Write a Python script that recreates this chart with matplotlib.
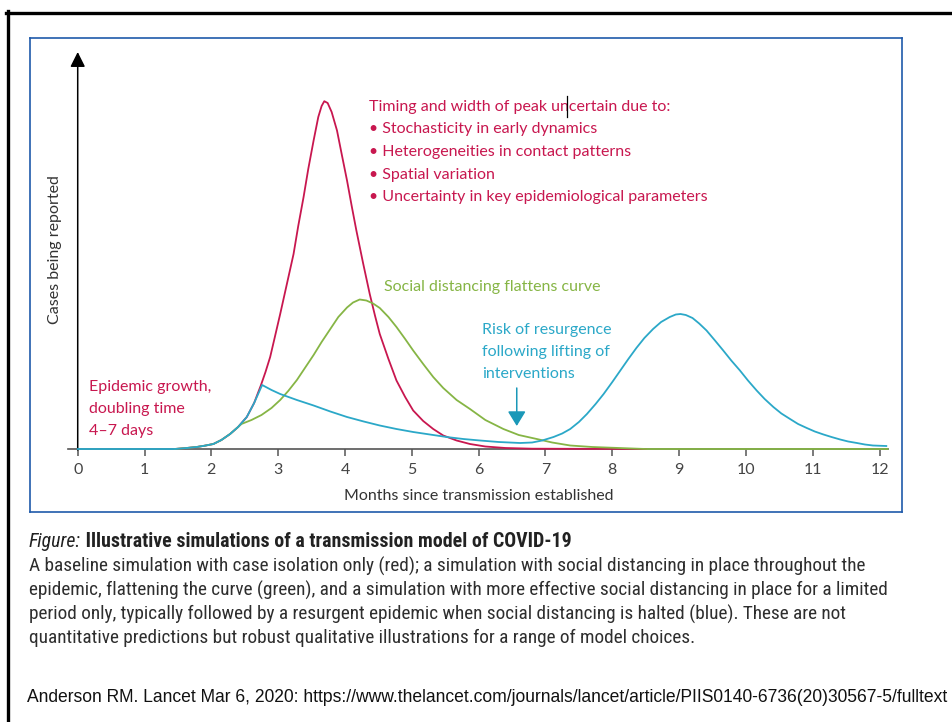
import matplotlib.pyplot as plt
from matplotlib import font_manager
from matplotlib.lines import Line2D

# months since transmission established / relative number of cases reported
red_t = [1.45, 1.6, 1.78, 1.9, 2.03, 2.15, 2.28, 2.4, 2.53, 2.64, 2.74, 2.81, 2.88, 2.95,
         3.03, 3.13, 3.23, 3.3, 3.38, 3.45, 3.53, 3.6, 3.65, 3.69, 3.74, 3.8, 3.88, 3.95,
         4.03, 4.1, 4.17, 4.27, 4.37, 4.45, 4.52, 4.65, 4.77, 4.9, 5.02, 5.17, 5.32, 5.47,
         5.67, 5.87, 6.1, 6.4, 6.8, 8.5]
red_y = [0, 0.8, 2, 3.3, 5, 9, 15, 22, 32, 46, 63.5, 77, 92, 112,
         135, 165, 195, 223, 252, 280, 308.5, 332, 343, 347.8, 346, 337, 318.5, 295,
         268.5, 243, 218.5, 186, 155, 133, 115, 90, 68.5, 52, 38.5, 28, 20, 13.5,
         8.5, 5, 2.5, 1, 0.3, 0]

green_t = [1.45, 1.6, 1.78, 1.9, 2.03, 2.15, 2.28, 2.4, 2.45, 2.6, 2.75, 2.9, 3.03, 3.15,
           3.28, 3.4, 3.53, 3.65, 3.78, 3.9, 4.03, 4.12, 4.22, 4.32, 4.42, 4.52, 4.65,
           4.77, 4.9, 5.02, 5.17, 5.32, 5.47, 5.67, 5.87, 6.1, 6.37, 6.6, 6.87, 7.1, 7.37,
           7.7, 8.1, 8.5, 12.12]
green_y = [0, 0.8, 2, 3.3, 5, 9, 15, 22, 25, 29, 34, 41, 49, 58,
           69, 81, 94, 107, 120, 132, 141.5, 146.5, 149.5, 148.5, 145.5, 141, 132,
           122, 110, 98.5, 85, 72, 61, 49, 40, 29, 20, 14, 10, 6.5, 3.5,
           2, 1, 0, 0]

blue_t = [0, 1.45, 1.6, 1.78, 1.9, 2.03, 2.15, 2.28, 2.4, 2.53, 2.64, 2.76, 2.9, 3.03,
          3.28, 3.53, 3.78, 4.03, 4.28, 4.52, 4.77, 5.02, 5.27, 5.52, 5.77, 6.02, 6.3,
          6.62, 6.8, 6.95, 7.12, 7.25, 7.37, 7.5, 7.62, 7.75, 7.87, 8.0, 8.12, 8.24,
          8.36, 8.48, 8.61, 8.73, 8.86, 8.95, 9.02, 9.1, 9.2, 9.3, 9.41, 9.53, 9.66,
          9.78, 9.91, 10.03, 10.16, 10.28, 10.41, 10.53, 10.66, 10.78, 10.91, 11.03,
          11.16, 11.28, 11.41, 11.53, 11.66, 11.78, 11.9, 12.1]
blue_y = [0, 0, 0.8, 2, 3.3, 5, 9, 15, 22, 32, 46, 64, 59, 55,
          49, 43.5, 37.5, 32, 27.5, 23.5, 20, 17, 14.5, 12, 10, 8.5, 7,
          6, 6.5, 8.5, 12, 15.5, 20, 27, 35, 45, 55, 67, 78.5, 90,
          101, 111, 120, 127, 132, 134.5, 135, 134, 131, 125.5, 118.5, 109, 98.5,
          88.5, 78.5, 68.5, 58.5, 50, 42, 35.5, 30, 25, 21, 17.5,
          14.5, 12, 9.5, 7.5, 6, 4.5, 3.5, 3]

months = list(range(13))

peak_note = ['Timing and width of peak uncertain due to:',
             '• Stochasticity in early dynamics',
             '• Heterogeneities in contact patterns',
             '• Spatial variation',
             '• Uncertainty in key epidemiological parameters']
growth_note = ['Epidemic growth,', 'doubling time', '4–7 days']
resurgence_note = ['Risk of resurgence', 'following lifting of', 'interventions']

caption_lines = [
    'A baseline simulation with case isolation only (red); a simulation with social distancing in place throughout the',
    'epidemic, flattening the curve (green), and a simulation with more effective social distancing in place for a limited',
    'period only, typically followed by a resurgent epidemic when social distancing is halted (blue). These are not',
    'quantitative predictions but robust qualitative illustrations for a range of model choices.',
]
source = ('Anderson RM. Lancet Mar 6, 2020: https://www.thelancet.com/journals/lancet/'
          'article/PIIS0140-6736(20)30567-5/fulltext')

RED = '#c8174f'
GREEN = '#86b545'
BLUE = '#2ba8c8'
BOX = '#1f5aaa'

# narrow face for the caption if one is installed
installed = {f.name for f in font_manager.fontManager.ttflist}
narrow = None
for name in ['Roboto Condensed', 'Liberation Sans Narrow', 'Open Sans Condensed',
             'Noto Sans Condensed', 'DejaVu Sans Condensed']:
    if name in installed:
        narrow = name
        break
cap_font = dict(family=[narrow or 'Liberation Sans', 'DejaVu Sans'])
if narrow is None:
    cap_font['stretch'] = 'condensed'

W, H = 952, 722
fig = plt.figure(figsize=(W / 100, H / 100), dpi=100)


def fx(px):
    return px / W


def fy(py):
    return 1 - py / H


# slide frame (top and left edges only)
fig.add_artist(Line2D([fx(6), 1], [fy(12.5), fy(12.5)], color='black', lw=2.4))
fig.add_artist(Line2D([fx(7.5), fx(7.5)], [fy(11), 0], color='black', lw=2.4))

# the blue box is the axes frame itself
ax = fig.add_axes([fx(30), fy(512), fx(902) - fx(30), fy(38) - fy(512)])
ax.set_xlim(-0.714, 12.335)
ax.set_ylim(-63, 411)
ax.set_xticks([])
ax.set_yticks([])
for s in ax.spines.values():
    s.set_color(BOX)
    s.set_linewidth(1.2)

txt = dict(family=['Lato', 'DejaVu Sans'], fontsize=11.5)

ax.plot(red_t, red_y, color=RED, lw=1.3, zorder=3)
ax.plot(green_t, green_y, color=GREEN, lw=1.3, zorder=4)
ax.plot(blue_t, blue_y, color=BLUE, lw=1.3, zorder=5)

# axes drawn by hand: baseline with ticks, arrowed vertical axis
ax.plot([-0.15, 12.12], [0, 0], color='#555555', lw=1.2, zorder=2)
ax.vlines(months, -7, 0, color='#555555', lw=1.1)
for m in months:
    ax.text(m, -21, str(m), ha='center', va='center', color='#444444', **txt)
ax.annotate('', xy=(0, 397), xytext=(0, -1),
            arrowprops=dict(arrowstyle='-|>,head_width=0.45,head_length=0.9',
                            color='black', lw=1.1, shrinkA=0, shrinkB=0))
ax.text(6, -47.5, 'Months since transmission established', ha='center', va='center',
        color='#333333', **txt)
fig.text(fx(55), fy(250), 'Cases being reported', rotation=90, ha='center',
         va='center', color='#333333', **txt)

for i, line in enumerate(peak_note):
    ax.text(4.36, 342 - 22.5 * i, line, color=RED, ha='left', va='center', **txt)
for i, line in enumerate(growth_note):
    ax.text(0.17, 62.3 - 22.2 * i, line, color=RED, ha='left', va='center', **txt)
ax.text(4.58, 162, 'Social distancing flattens curve', color=GREEN, ha='left',
        va='center', **txt)
for i, line in enumerate(resurgence_note):
    ax.text(6.045, 119 - 22 * i, line, color=BLUE, ha='left', va='center', **txt)
ax.annotate('', xy=(6.57, 23), xytext=(6.57, 61),
            arrowprops=dict(arrowstyle='-|>,head_width=0.55,head_length=0.9',
                            color='#1a98b8', lw=1.1, shrinkA=0, shrinkB=0))

# text cursor left in the annotation, between "un" and "certain"
fig.add_artist(Line2D([fx(566.5), fx(566.5)], [fy(117), fy(96)], color='black', lw=0.9))

# caption
t1 = fig.text(fx(29), fy(541.5), 'Figure:', style='italic', fontsize=12.5,
              color='#222222', va='center', **cap_font)
t2 = ax.annotate(' Illustrative simulations of a transmission model of COVID-19',
                 xy=(1, 0.5), xycoords=t1, va='center', ha='left', fontsize=12.5,
                 weight='bold', color='#222222', annotation_clip=False, **cap_font)
body = [fig.text(fx(29), fy(566.7 + 23.8 * i), line, fontsize=12.5, color='#2e2e2e',
                 va='center', **cap_font)
        for i, line in enumerate(caption_lines)]
src = fig.text(fx(27), fy(697), source, fontsize=12.5,
               family=['Liberation Sans', 'DejaVu Sans'], color='#111111', va='center')

# size the caption and source lines to the column width
fig.canvas.draw()
r = fig.canvas.get_renderer()
w = body[0].get_window_extent(r).width
for t in body:
    t.set_fontsize(12.5 * 842 / w)
w = t1.get_window_extent(r).width + t2.get_window_extent(r).width
t1.set_fontsize(12.5 * 542 / w)
t2.set_fontsize(12.5 * 542 / w)
w = src.get_window_extent(r).width
src.set_fontsize(12.5 * 928 / w)

fig.savefig('out.png', dpi=100)
